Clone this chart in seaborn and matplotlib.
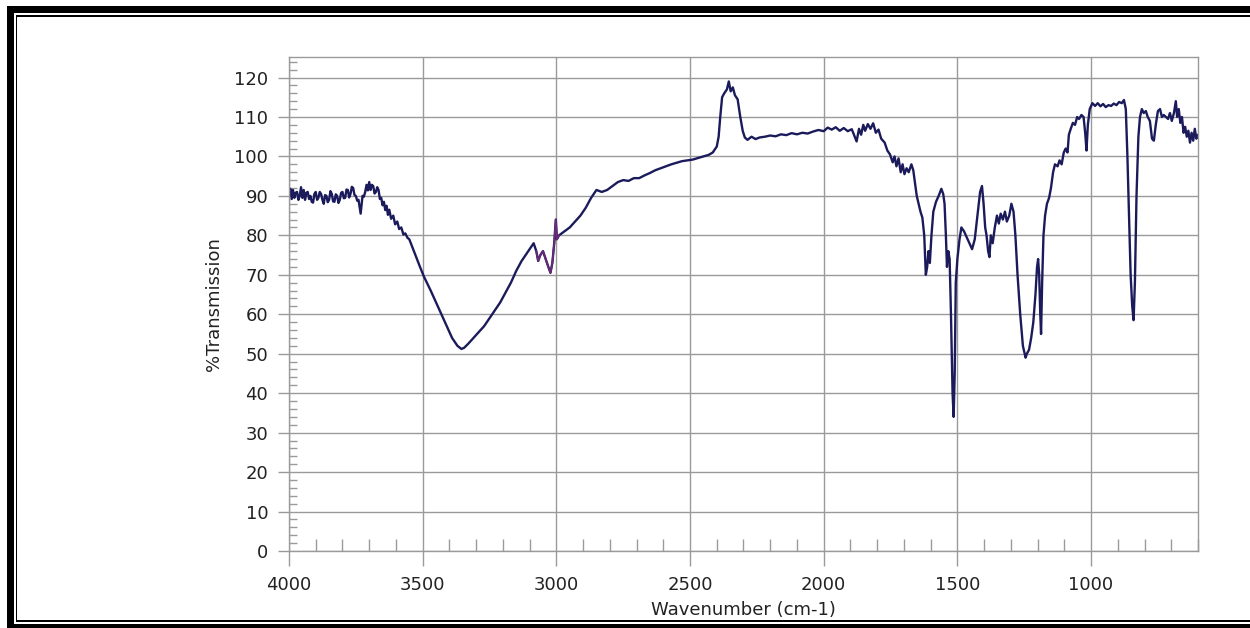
import numpy as np
import pandas as pd
import matplotlib
matplotlib.use("Agg")
import matplotlib.pyplot as plt
import seaborn as sns
from matplotlib.patches import Rectangle
from matplotlib.ticker import MultipleLocator

wavenumber = [
    4000, 3995, 3990, 3985, 3980, 3975, 3970, 3965, 3960, 3955, 3950, 3945, 3940, 3935, 3930,
    3925, 3920, 3915, 3910, 3905, 3900, 3895, 3890, 3885, 3880, 3875, 3870, 3865, 3860, 3855,
    3850, 3845, 3840, 3835, 3830, 3825, 3820, 3815, 3810, 3805, 3800, 3795, 3790, 3785, 3780,
    3775, 3770, 3765, 3760, 3755, 3750, 3745, 3740, 3732, 3725, 3720, 3715, 3710, 3705, 3700,
    3695, 3690, 3685, 3680, 3675, 3670, 3665, 3660, 3655, 3650, 3645, 3640, 3635, 3630, 3625,
    3618, 3610, 3603, 3595, 3588, 3580, 3572, 3565, 3557, 3550,
    3530, 3510, 3495, 3470, 3450, 3430, 3410, 3390, 3370, 3355, 3345, 3330, 3310, 3290, 3270,
    3250, 3230, 3210, 3190, 3170, 3150, 3130, 3110, 3095, 3085, 3075, 3068, 3060, 3050, 3040,
    3030, 3022, 3015, 3008, 3002, 2998, 2990, 2970, 2950, 2930, 2910, 2890, 2870, 2850, 2830,
    2810, 2790, 2770, 2750, 2730, 2710, 2690, 2670, 2650, 2630, 2610, 2590, 2570, 2550, 2530,
    2510, 2490, 2470, 2450, 2430, 2415, 2400, 2393, 2387, 2380, 2372, 2362, 2355, 2348, 2340,
    2332, 2322, 2312, 2303, 2295, 2285, 2270, 2255, 2240, 2220, 2200, 2180, 2160, 2140, 2120,
    2100, 2080, 2060, 2040, 2020, 2000, 1985, 1970, 1955, 1940, 1925, 1910, 1895, 1885, 1877,
    1868, 1860, 1852, 1845, 1835, 1825, 1815, 1805, 1795, 1785, 1772, 1762, 1752, 1742, 1735,
    1728, 1720, 1712, 1705, 1698, 1690, 1682, 1672, 1665, 1658, 1652, 1645, 1638, 1631, 1624,
    1618, 1613, 1608, 1603, 1597, 1590, 1580, 1570, 1560, 1553, 1548, 1543, 1539, 1534, 1529,
    1524, 1518, 1514, 1510, 1506, 1500, 1492, 1485, 1475, 1465, 1455, 1445, 1435, 1425, 1415,
    1408, 1402, 1396, 1391, 1385, 1380, 1375, 1368, 1360, 1352, 1345, 1338, 1330, 1322, 1315,
    1306, 1298, 1290, 1283, 1275, 1265, 1255, 1245, 1240, 1232, 1224, 1216, 1208, 1202, 1198,
    1194, 1190, 1187, 1183, 1178, 1172, 1165, 1157, 1150, 1142, 1135, 1125, 1118, 1110, 1102,
    1095, 1088, 1083, 1076, 1068, 1060, 1052, 1045, 1036, 1028, 1022, 1017, 1012, 1005, 995,
    985, 975, 965, 955, 945, 935, 925, 915, 905, 895, 885, 877, 870, 864, 858,
    852, 846, 841, 836, 830, 823, 817, 810, 803, 795, 788, 780, 772, 765, 758,
    750, 742, 735, 728, 720, 712, 705, 698, 690, 683, 678, 672, 666, 660, 654,
    648, 642, 636, 630, 624, 618, 612, 606, 600,
]
transmission = [
    90, 91.8, 89.2, 91.5, 89.5, 90.8, 91, 89, 90, 92.2, 89.5, 91.5, 89, 90.8, 91,
    89.2, 90, 88.5, 88.3, 90.5, 91, 89, 89.5, 91, 90.5, 89, 88, 90.2, 90, 88.4,
    89, 91.2, 90.5, 88.6, 88.5, 90.4, 90, 88.2, 89, 90.8, 91, 89.4, 89.5, 91.6, 91.5,
    89.6, 90.5, 92.3, 92, 90.2, 90, 88.8, 89, 85.5, 90, 89.8, 91, 92.8, 91.4, 93.5,
    91.5, 92.8, 92.5, 90.6, 91, 92.2, 91.5, 89.2, 89.5, 87.6, 88.5, 86.4, 87.5, 85.2, 86.5,
    84.2, 85, 82.8, 83.5, 81.6, 82, 80.2, 80.5, 79.4, 79,
    75.5, 72, 69.5, 66, 63, 60, 57, 54, 52, 51.2, 51.5, 52.5, 54, 55.5, 57,
    59, 61, 63, 65.5, 68, 71, 73.5, 75.5, 77, 78, 76, 73.5, 75, 76, 74,
    72, 70.5, 73, 78, 84, 79, 80, 81, 82, 83.5, 85, 87, 89.5, 91.5, 91,
    91.5, 92.5, 93.5, 94, 93.8, 94.5, 94.5, 95.2, 95.8, 96.5, 97, 97.5, 98, 98.4, 98.8,
    99, 99.2, 99.6, 100, 100.4, 101, 102.5, 105, 110, 115, 116, 117, 119, 116.5, 117.5,
    115.5, 114.5, 110, 106.5, 104.8, 104.2, 105, 104.4, 104.8, 105, 105.3, 105.1, 105.6, 105.4, 105.9,
    105.6, 106, 105.8, 106.3, 106.7, 106.4, 107.3, 106.8, 107.4, 106.5, 107.2, 106.4, 106.9, 105.2, 103.8,
    107, 105.5, 108, 106.5, 108.2, 107, 108.4, 106, 106.8, 104.5, 103.5, 101.5, 100.5, 98.5, 100,
    97.5, 99.5, 96, 98, 95.5, 97, 96, 98, 96.5, 93, 90, 88, 86, 84.5, 80,
    70, 72, 76, 73, 80, 86, 88.5, 90, 91.8, 90.5, 88, 80, 72, 76, 74,
    60, 40, 34, 45, 68, 74, 79, 82, 81, 79.5, 78, 76.5, 79, 85, 91,
    92.5, 88, 82, 80, 76, 74.5, 80, 78, 82, 85, 83, 85.5, 84, 86, 83.5,
    85, 88, 86, 80, 70, 60, 52, 49, 50, 51, 54, 58, 65, 72, 74,
    70, 60, 55, 68, 80, 85, 88, 89.5, 92, 96, 98, 97.5, 99, 98, 101,
    102, 101, 105.5, 107, 108.5, 108, 110, 109.5, 110.5, 110, 106, 101.5, 108, 112, 113.5,
    112.8, 113.5, 112.7, 113.3, 112.5, 113, 112.8, 113.4, 113, 113.8, 113.5, 114.3, 112, 100, 85,
    70, 62, 58.5, 68, 90, 105, 110, 112, 111, 111.5, 110, 109, 104.5, 104, 108,
    111.5, 112, 110, 110.5, 110, 109.5, 111, 109, 111, 114, 110, 112, 108.5, 110, 106,
    107.5, 105, 106.5, 103.5, 106, 104, 107, 104.5, 105.5,
]

x_ticks = [4000, 3500, 3000, 2500, 2000, 1500, 1000]
y_ticks = [0, 10, 20, 30, 40, 50, 60, 70, 80, 90, 100, 110, 120]

df = pd.DataFrame({"Wavenumber": wavenumber, "T": transmission})
purple = df[(df["Wavenumber"] <= 3080) & (df["Wavenumber"] >= 2985)]

sns.set_style("white")
plt.rcParams["font.family"] = ["DejaVu Sans"]

W, H = 1250, 628
fig = plt.figure(figsize=(W / 100, H / 100), dpi=100)
ax = fig.add_axes([289 / W, 1 - 551 / H, (1198 - 289) / W, (551 - 57) / H])

grid_c = "#9a9a9a"
sns.lineplot(data=df, x="Wavenumber", y="T", ax=ax, color="#1b1b5c", linewidth=1.7,
             sort=False, estimator=None)
sns.lineplot(data=purple, x="Wavenumber", y="T", ax=ax, color="#6b2a78", linewidth=1.3,
             sort=False, estimator=None)

ax.set_xlim(4000, 600)
ax.set_ylim(0, 125.2)
ax.set_xticks(x_ticks)
ax.set_yticks(y_ticks)
ax.xaxis.set_minor_locator(MultipleLocator(100))
ax.yaxis.set_minor_locator(MultipleLocator(2))
ax.grid(True, which="major", color=grid_c, linewidth=1.0)
ax.set_axisbelow(True)
for s in ax.spines.values():
    s.set_color(grid_c)
    s.set_linewidth(1.0)

fs = 13
ax.tick_params(axis="x", which="major", direction="out", length=11, width=1.0,
               color=grid_c, labelsize=fs, labelcolor="#222222", pad=7, bottom=True)
ax.tick_params(axis="x", which="minor", direction="in", length=9, width=1.0,
               color=grid_c, bottom=True)
ax.tick_params(axis="y", which="major", direction="out", length=8, width=1.0,
               color=grid_c, labelsize=fs, labelcolor="#222222", pad=7, left=True)
ax.tick_params(axis="y", which="minor", direction="in", length=6, width=1.0,
               color=grid_c, left=True)

ax.set_xlabel("Wavenumber (cm-1)", fontsize=fs, color="#222222", labelpad=5)
ax.set_ylabel("%Transmission", fontsize=fs, color="#222222", labelpad=8)


def band(x0, y0, x1, y1):
    fig.add_artist(Rectangle((x0 / W, 1 - y1 / H), (x1 - x0) / W, (y1 - y0) / H,
                             transform=fig.transFigure, color="black", lw=0, zorder=10))


# outer thick frame
band(7, 6, 1250, 13)
band(7, 6, 13.5, 628)
band(7, 624, 1250, 628)
# inner thin frame
band(15.5, 15, 1250, 16.8)
band(15.5, 15, 17.3, 622)
band(15.5, 620.2, 1250, 622)

fig.savefig("out.png", dpi=100)
